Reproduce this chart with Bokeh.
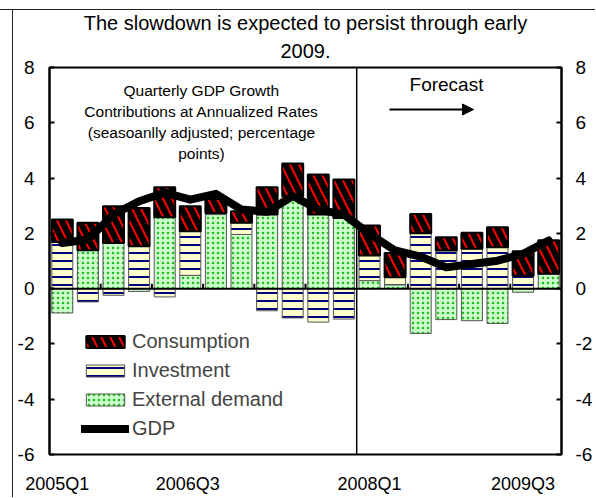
from bokeh.plotting import figure
from bokeh.models import (Range1d, LinearAxis, FixedTicker, Span, Label, Arrow,
                          NormalHead, Legend, LegendItem, Title)
from bokeh.embed import file_html
from bokeh.resources import INLINE

# ---------------- data ----------------
quarters = ["2005Q1", "2005Q2", "2005Q3", "2005Q4", "2006Q1", "2006Q2", "2006Q3", "2006Q4",
            "2007Q1", "2007Q2", "2007Q3", "2007Q4", "2008Q1", "2008Q2", "2008Q3", "2008Q4",
            "2009Q1", "2009Q2", "2009Q3", "2009Q4"]
consumption = [0.81, 0.99, 1.33, 1.39, 1.09, 0.90, 0.50, 0.42, 0.99, 1.18,
               1.45, 1.39, 1.08, 0.88, 0.70, 0.48, 0.58, 0.72, 0.88, 1.21]
investment = [1.69, -0.48, -0.24, 1.53, -0.30, 1.60, 0.06, 0.42, -0.80, -1.06,
              -1.21, -1.10, 0.91, 0.27, 2.00, 1.38, 1.44, 1.50, 0.47, 0.00]
external_demand = [-0.88, 1.39, 1.65, -0.10, 2.58, 0.48, 2.68, 1.96, 2.68, 3.35,
                   2.68, 2.56, 0.29, 0.14, -1.62, -1.12, -1.16, -1.26, -0.13, 0.54]
gdp = [1.65, 1.78, 2.68, 3.16, 3.47, 3.22, 3.43, 2.86, 2.78, 3.35,
       2.86, 2.68, 1.98, 1.38, 1.16, 0.77, 0.89, 1.01, 1.26, 1.74]
forecast_start = "2008Q1"
y_ticks = [-6, -4, -2, 0, 2, 4, 6, 8]
x_label_text = ["2005Q1", "2006Q3", "2008Q1", "2009Q3"]
x_label_pos = [-0.2, 4.9, 12.0, 18.0]
title_lines = ["The slowdown is expected to persist through early", "2009."]
note_lines = ["Quarterly GDP Growth", "Contributions at Annualized Rates",
              "(seasoanlly adjusted; percentage", "points)"]

FONT = "Liberation Sans"
n = len(quarters)
xs = list(range(n))

# ---------------- stacking (positives up, negatives down) ----------------
order = [("External demand", external_demand), ("Investment", investment),
         ("Consumption", consumption)]
pos_base = [0.0] * n
neg_base = [0.0] * n
stacks = {}
for name, vals in order:
    bottoms, tops = [], []
    for i, v in enumerate(vals):
        if v >= 0:
            b = pos_base[i]; t = b + v; pos_base[i] = t
        else:
            b = neg_base[i]; t = b + v; neg_base[i] = t
        bottoms.append(b); tops.append(t)
    stacks[name] = (bottoms, tops)

# ---------------- figure ----------------
p = figure(width=595, height=497, x_range=Range1d(-0.5, n - 0.5), y_range=Range1d(-6, 8),
           output_backend="svg", toolbar_location=None,
           x_axis_location=None, y_axis_location=None,
           min_border_left=49, min_border_right=32, min_border_top=67, min_border_bottom=43)
# thin outer box lines (top and left) of the original exhibit, drawn behind a transparent border
p.styles = {"background": "linear-gradient(#222, #222) 0 9px / 100% 1px no-repeat, "
                          "linear-gradient(#222, #222) 12px 9px / 1px 100% no-repeat, #ffffff"}
p.border_fill_color = None
p.xgrid.grid_line_color = None
p.ygrid.grid_line_color = None
p.outline_line_color = "black"
p.outline_line_width = 2
p.background_fill_color = "white"

for side, standoff in (("left", 15), ("right", 14)):
    ax = LinearAxis(ticker=FixedTicker(ticks=y_ticks), major_tick_in=5, major_tick_out=0,
                    minor_tick_line_color=None, axis_line_color="black", axis_line_width=2,
                    major_tick_line_color="black", major_tick_line_width=2,
                    major_label_overrides={t: str(t) for t in y_ticks},
                    major_label_text_font=FONT, major_label_text_font_size="19px",
                    major_label_text_color="black", major_label_standoff=standoff)
    p.add_layout(ax, side)

xax = LinearAxis(ticker=FixedTicker(ticks=x_label_pos),
                 major_label_overrides=dict(zip(x_label_pos, x_label_text)),
                 axis_line_color=None, major_tick_line_color=None, minor_tick_line_color=None,
                 major_tick_in=0, major_tick_out=0, major_label_standoff=19,
                 major_label_text_font=FONT, major_label_text_font_size="18px",
                 major_label_text_color="black")
p.add_layout(xax, "below")

# two-line title: the line added last sits on top
p.add_layout(Title(text=title_lines[1], align="center", vertical_align="middle",
                   text_font=FONT, text_font_size="20px", text_font_style="normal",
                   text_color="black", standoff=17), "above")
p.add_layout(Title(text=title_lines[0], align="center", vertical_align="middle",
                   text_font=FONT, text_font_size="20px", text_font_style="normal",
                   text_color="black", standoff=0), "above")

bar_styles = {
    "External demand": dict(fill_color="#ccffcc", hatch_pattern=".", hatch_color="#18c018",
                            hatch_scale=5, hatch_weight=2.0, line_color="#555555", line_width=1),
    "Investment": dict(fill_color="#ffffcc", hatch_pattern="-", hatch_color="#000080",
                       hatch_scale=8, hatch_weight=2, line_color="#555555", line_width=1),
    "Consumption": dict(fill_color="#ff0000", hatch_pattern="\\", hatch_color="black",
                        hatch_scale=18, hatch_weight=6, line_color="black", line_width=2),
}
renderers = {}
for name, _ in order:
    bottoms, tops = stacks[name]
    renderers[name] = p.vbar(x=xs, width=0.82, bottom=bottoms, top=tops, **bar_styles[name])

# zero line, forecast divider, small category ticks at zero
p.add_layout(Span(location=0, dimension="width", line_color="black", line_width=2))
fc = quarters.index(forecast_start) - 0.5
p.add_layout(Span(location=fc, dimension="height", line_color="black", line_width=1.5))
tick_x = [i + 1.5 for i in range(0, n - 2, 2) if i + 1.5 != fc]
p.segment(x0=tick_x, y0=[0] * len(tick_x), x1=tick_x, y1=[0.18] * len(tick_x),
          line_color="black", line_width=2)

gdp_r = p.line(xs, gdp, line_color="black", line_width=8, line_cap="round", line_join="round")

legend = Legend(items=[LegendItem(label="Consumption", renderers=[renderers["Consumption"]]),
                       LegendItem(label="Investment", renderers=[renderers["Investment"]]),
                       LegendItem(label="External demand", renderers=[renderers["External demand"]]),
                       LegendItem(label="GDP", renderers=[gdp_r])],
                location=(32, 14), orientation="vertical", border_line_color=None,
                background_fill_alpha=0, padding=0, margin=0, spacing=6,
                glyph_width=48, glyph_height=15, label_height=22, label_standoff=3,
                label_text_font=FONT, label_text_font_size="20px")
p.add_layout(legend)

# in-frame texts (screen units, measured from the frame's bottom-left)
for i, t in enumerate(note_lines):
    p.add_layout(Label(x=152, y=364 - 21 * i, x_units="screen", y_units="screen", text=t,
                       text_align="center", text_baseline="middle", text_font=FONT,
                       text_font_size="15.5px", text_color="black"))
p.add_layout(Label(x=397, y=370, x_units="screen", y_units="screen", text="Forecast",
                   text_align="center", text_baseline="middle", text_font=FONT,
                   text_font_size="19px", text_color="black"))
p.add_layout(Arrow(end=NormalHead(size=11, fill_color="black", line_color="black"),
                   x_start=340, y_start=345, x_end=424, y_end=345,
                   start_units="screen", end_units="screen", line_color="black", line_width=2))

open("out.html", "w").write(file_html(p, INLINE))
